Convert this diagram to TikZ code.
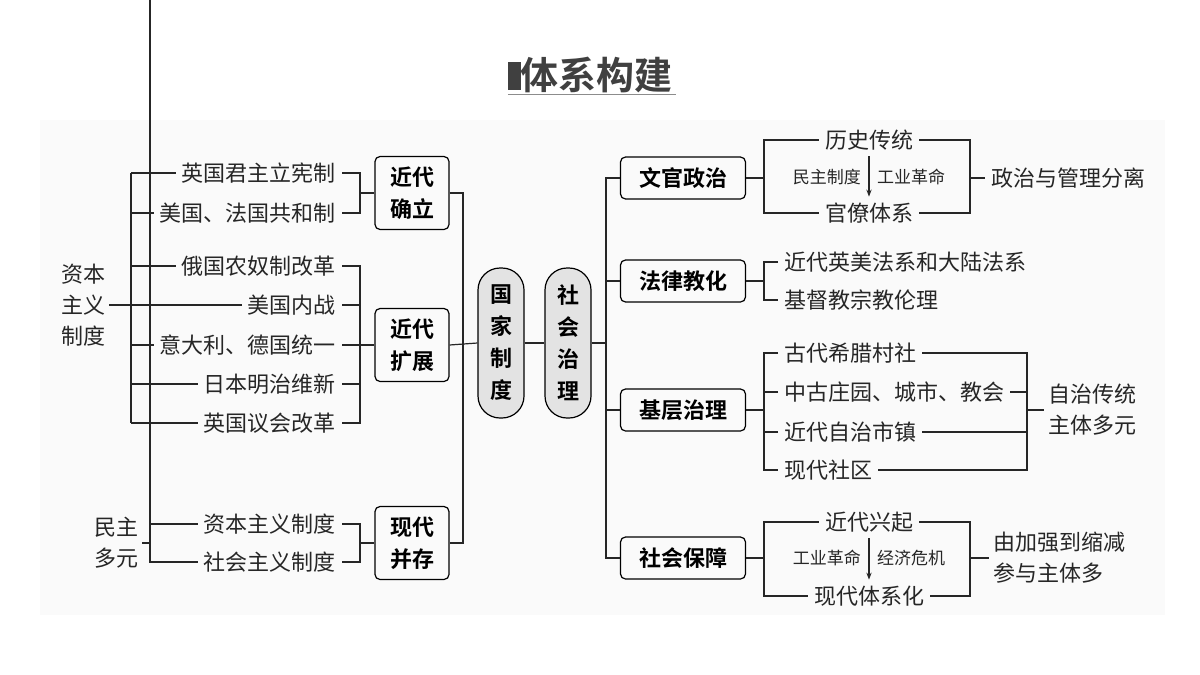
\documentclass[tikz,border=0pt]{standalone}
\usepackage{fontspec}
\setmainfont{Noto Sans CJK SC}[BoldFont={Noto Sans CJK SC Bold}]
\usetikzlibrary{positioning,arrows.meta,calc}

\tikzset{
    line/.style={line width=1.2pt, black!85},
    item/.style={inner sep=6pt, text=black!85, font=\fontsize{22}{22}\selectfont},
    note/.style={inner sep=3pt, text=black!85, font=\fontsize{17}{17}\selectfont},
    side/.style={inner sep=4pt, text=black!85, align=center, font=\fontsize{22}{31}\selectfont},
    box/.style={draw, line width=1.2pt, rounded corners=5pt, align=center, inner sep=0pt,
        font=\bfseries\fontsize{22}{32}\selectfont},
    pill/.style={draw, line width=1.2pt, rounded corners=22pt, fill=gray!22, align=center,
        minimum width=46pt, minimum height=150pt, inner sep=0pt, font=\bfseries\fontsize{22}{32}\selectfont}
}

\begin{document}
\begin{tikzpicture}[x=1pt, y=-1pt]
    \useasboundingbox (0,0) rectangle (1200,675);
    \fill[black!2] (40,120) rectangle (1165,615);

    % title
    \node[font=\bfseries\fontsize{38}{38}\selectfont, text=black!75] (title) at (590,75) {\rule{13pt}{28pt}体系构建};
    \draw[line width=1.5pt, black!45] (title.south west) ++(4,-2) coordinate (ul) -- (ul -| title.south east);

    % left side
    \node[side] (zb) at (83,305) {资本\\主义\\制度};
    \node[side] (mz) at (116,543) {民主\\多元};
    \foreach \n/\y/\t in {a1/173/英国君主立宪制, a2/213/美国、法国共和制, a3/266/俄国农奴制改革,
        a4/305/美国内战, a5/345/意大利、德国统一, a6/384/日本明治维新, a7/423/英国议会改革,
        b1/524/资本主义制度, b2/562/社会主义制度}
        \node[item, anchor=east] (\n) at (342,\y) {\t};
    \coordinate (lb) at (131,0);
    \coordinate (mb) at (150,0);
    \coordinate (rb) at (360,0);
    \draw[line] (a1.west -| lb) -- (a7.west -| lb);
    \foreach \n in {a1,a2,a3,a5,a6,a7}
        \draw[line] (\n.west) -- (\n.west -| lb);
    \draw[line] (zb.east) -- (a4.west);
    \draw[line] (b1.west) -| (mb) |- (b2.west);
    \draw[line] (mz.east) -- (mz.east -| mb);

    \node[box, minimum width=74pt, minimum height=73pt] (jq) at (412,193) {近代\\确立};
    \node[box, minimum width=74pt, minimum height=73pt] (kz) at (412,345) {近代\\扩展};
    \node[box, minimum width=74pt, minimum height=73pt] (bc) at (412,543) {现代\\并存};
    \draw[line] (a1.east) -| (a1.east -| rb) |- (a2.east);
    \draw[line] (a1.east -| rb) |- (jq.west);
    \draw[line] (a3.east) -| (a3.east -| rb) |- (a7.east);
    \foreach \n in {a4,a5,a6} \draw[line] (\n.east) -- (\n.east -| rb);
    \draw[line] (a5.east -| rb) -- (kz.west);
    \draw[line] (b1.east) -| (b1.east -| rb) |- (b2.east);
    \draw[line] (b1.east -| rb) |- (bc.west);

    % centre
    \node[pill] (gj) at (501,343) {国\\家\\制\\度};
    \node[pill] (sh) at (568,343) {社\\会\\治\\理};
    \coordinate (cl) at (463,0);
    \draw[line] (jq.east) -| (jq.east -| cl) |- (bc.east);
    \draw[line] (kz.east) -- (gj.west);
    \draw[line] (gj.east) -- (sh.west);

    % right side
    \node[box, minimum width=125pt, minimum height=42pt] (wg) at (683,178) {文官政治};
    \node[box, minimum width=125pt, minimum height=42pt] (fl) at (683,281) {法律教化};
    \node[box, minimum width=125pt, minimum height=42pt] (jc) at (683,410) {基层治理};
    \node[box, minimum width=125pt, minimum height=42pt] (bz) at (683,558) {社会保障};
    \coordinate (sr) at (606,0);
    \draw[line] (sh.east) -- (sh.east -| sr);
    \draw[line] (wg.west) -| (wg.west -| sr) |- (bz.west);
    \foreach \n in {fl,jc} \draw[line] (\n.west) -- (\n.west -| sr);

    \coordinate (ra) at (764,0);
    \coordinate (rc) at (970,0);
    \coordinate (rd) at (1027,0);

    % 文官政治
    \node[item] (ls) at (869,140) {历史传统};
    \node[item] (gl) at (869,213) {官僚体系};
    \draw[line] (ls.west) -| (ls.west -| ra) |- (gl.west);
    \draw[line] (ls.east) -| (ls.east -| rc) |- (gl.east);
    \draw[line] (wg.east) -- (wg.east -| ra);
    \draw[line, -{Stealth[length=7pt]}] (ls.south) -- (gl.north);
    \node[note, anchor=east] (mzzd) at (864,177) {民主制度};
    \node[note, anchor=west] (gygm) at (874,177) {工业革命};
    \node[item, anchor=west] (zz) at (985,178) {政治与管理分离};
    \draw[line] (wg.east -| rc) -- (zz.west);

    % 法律教化
    \node[item, anchor=west] (f1) at (778,262) {近代英美法系和大陆法系};
    \node[item, anchor=west] (f2) at (778,300) {基督教宗教伦理};
    \draw[line] (f1.west) -| (f1.west -| ra) |- (f2.west);
    \draw[line] (fl.east) -- (fl.east -| ra);

    % 基层治理
    \foreach \n/\y/\t in {c1/353/古代希腊村社, c2/392/中古庄园、城市、教会, c3/432/近代自治市镇, c4/470/现代社区}
        \node[item, anchor=west] (\n) at (778,\y) {\t};
    \draw[line] (c1.west) -| (c1.west -| ra) |- (c4.west);
    \foreach \n in {c2,c3} \draw[line] (\n.west) -- (\n.west -| ra);
    \draw[line] (jc.east) -- (jc.east -| ra);
    \draw[line] (c1.east) -| (c1.east -| rd) |- (c4.east);
    \foreach \n in {c2,c3} \draw[line] (\n.east) -- (\n.east -| rd);
    \node[side, anchor=west] (zz2) at (1044,410) {自治传统\\主体多元};
    \draw[line] (jc.east -| rd) -- (zz2.west);

    % 社会保障
    \node[item] (xq) at (869,522) {近代兴起};
    \node[item] (tx) at (869,596) {现代体系化};
    \draw[line] (xq.west) -| (xq.west -| ra) |- (tx.west);
    \draw[line] (xq.east) -| (xq.east -| rc) |- (tx.east);
    \draw[line] (bz.east) -- (bz.east -| ra);
    \draw[line, -{Stealth[length=7pt]}] (xq.south) -- (tx.north);
    \node[note, anchor=east] (gy) at (864,558) {工业革命};
    \node[note, anchor=west] (jj) at (874,558) {经济危机};
    \node[side, anchor=west, align=left] (jq2) at (989,558) {由加强到缩减\\参与主体多};
    \draw[line] (bz.east -| rc) -- (jq2.west);
\end{tikzpicture}
\end{document}
